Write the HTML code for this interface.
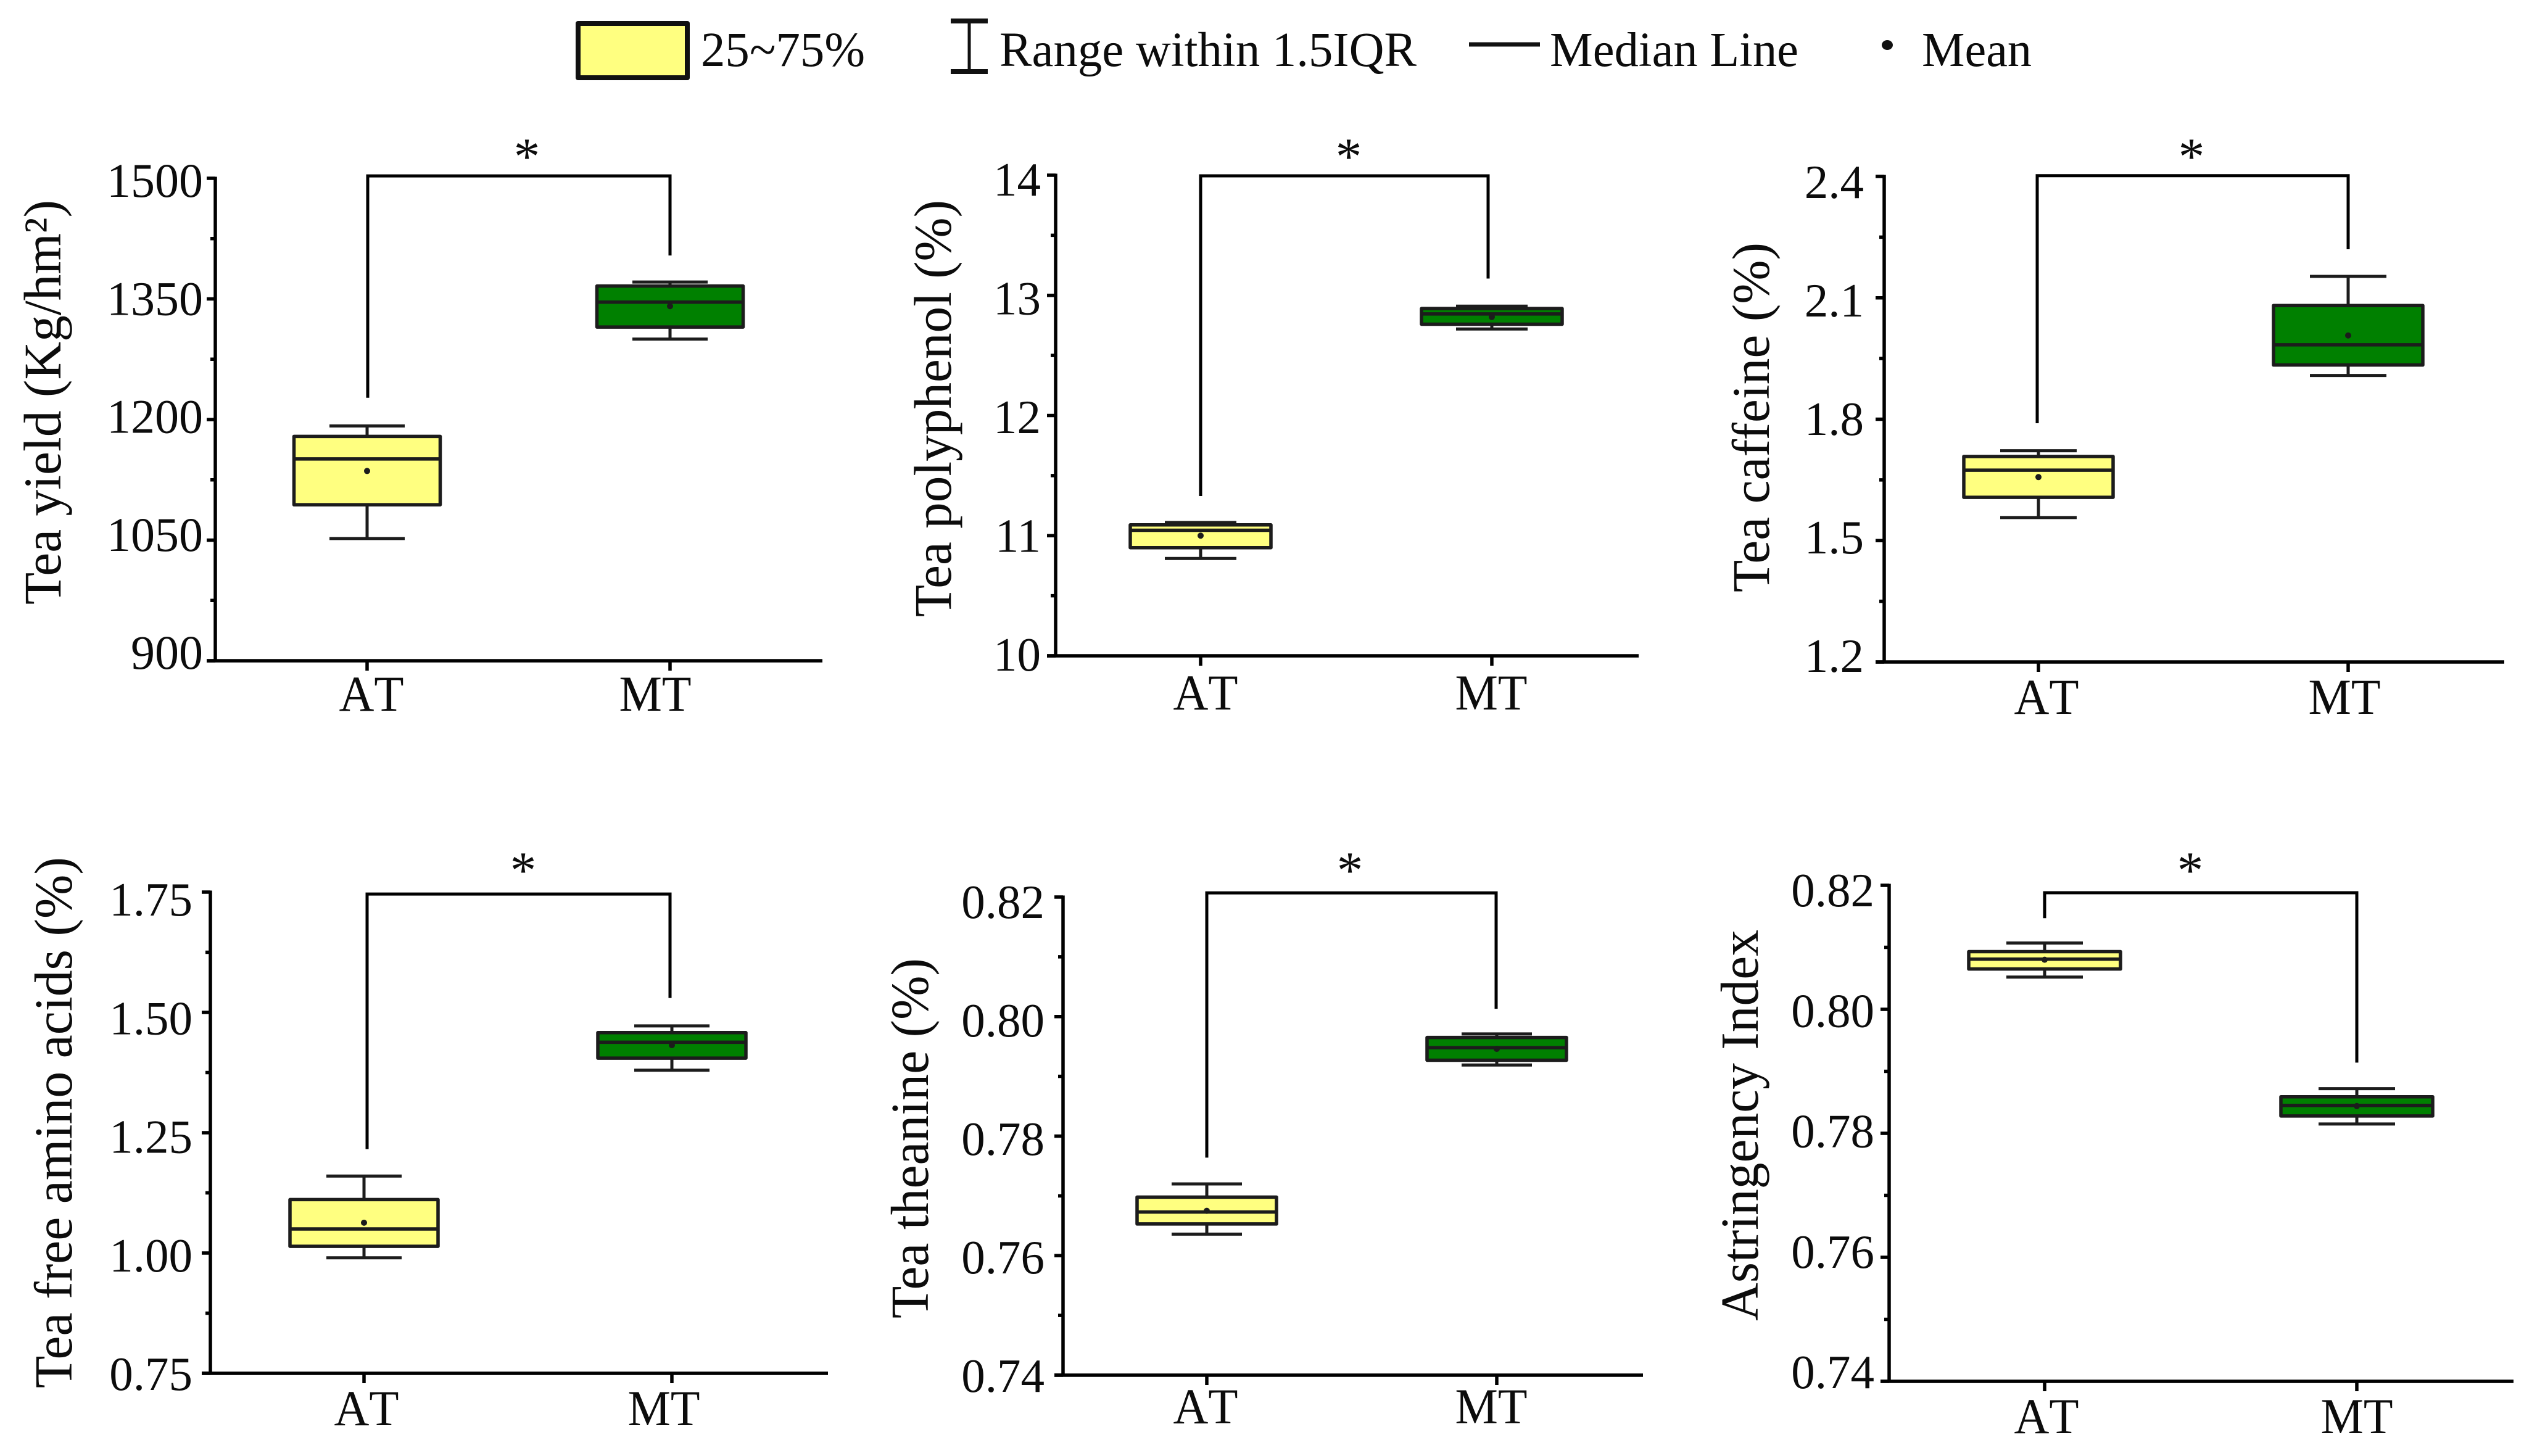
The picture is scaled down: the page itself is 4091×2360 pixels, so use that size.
<!DOCTYPE html>
<html lang="en">
<head>
<meta charset="utf-8">
<title>Tea quality box plots</title>
<style>
html,body{margin:0;padding:0;background:#fff;}
svg{display:block;}
text{font-family:"Liberation Serif",serif;fill:#0c0c0c;}
</style>
</head>
<body>
<svg id="chart" xmlns="http://www.w3.org/2000/svg" width="4091" height="2360" viewBox="0 0 4091 2360">
  <rect x="0" y="0" width="4091" height="2360" fill="#fff"/>
  <g>
    <rect x="937" y="38" width="177" height="88" fill="#FFFF80" stroke="#111" stroke-width="8" stroke-linejoin="round"/>
    <text x="1136" y="107" font-size="79" textLength="266" lengthAdjust="spacingAndGlyphs">25~75%</text>
    <g stroke="#111">
      <line x1="1571" y1="34" x2="1571" y2="116" stroke-width="5"/>
      <line x1="1541" y1="34" x2="1601" y2="34" stroke-width="8"/>
      <line x1="1541" y1="116" x2="1601" y2="116" stroke-width="8"/>
    </g>
    <text x="1620" y="107" font-size="79" textLength="676" lengthAdjust="spacingAndGlyphs">Range within 1.5IQR</text>
    <line x1="2381" y1="72" x2="2496" y2="72" stroke="#111" stroke-width="7"/>
    <text x="2512" y="107" font-size="79" textLength="403" lengthAdjust="spacingAndGlyphs">Median Line</text>
    <ellipse cx="3059" cy="73" rx="9" ry="8" fill="#111"/>
    <text x="3115" y="107" font-size="79" textLength="178" lengthAdjust="spacingAndGlyphs">Mean</text>
  </g>
</svg>
<script>
// ---------- data: stats order is [whisker low, Q1, median, mean, Q3, whisker high] ----------
const categories = ['AT', 'MT'];

const yieldTicks = [900, 1050, 1200, 1350, 1500];
const yieldTickLabels = ['900', '1050', '1200', '1350', '1500'];
const yieldAT = [1052, 1094, 1151, 1136, 1179, 1192];
const yieldMT = [1300, 1315, 1346, 1341, 1366, 1371];
const yieldBracket = [1227, 1503, 1404];

const polyphenolTicks = [10, 11, 12, 13, 14];
const polyphenolTickLabels = ['10', '11', '12', '13', '14'];
const polyphenolAT = [10.81, 10.90, 11.045, 11.0, 11.09, 11.11];
const polyphenolMT = [12.72, 12.76, 12.845, 12.82, 12.89, 12.91];
const polyphenolBracket = [11.33, 13.995, 13.14];

const caffeineTicks = [1.2, 1.5, 1.8, 2.1, 2.4];
const caffeineTickLabels = ['1.2', '1.5', '1.8', '2.1', '2.4'];
const caffeineAT = [1.557, 1.607, 1.674, 1.657, 1.708, 1.722];
const caffeineMT = [1.908, 1.934, 1.984, 2.007, 2.081, 2.153];
const caffeineBracket = [1.79, 2.402, 2.22];

const aminoTicks = [0.75, 1.00, 1.25, 1.50, 1.75];
const aminoTickLabels = ['0.75', '1.00', '1.25', '1.50', '1.75'];
const aminoAT = [0.99, 1.014, 1.05, 1.063, 1.111, 1.16];
const aminoMT = [1.38, 1.405, 1.438, 1.432, 1.458, 1.472];
const aminoBracket = [1.216, 1.746, 1.53];

const theanineTicks = [0.74, 0.76, 0.78, 0.80, 0.82];
const theanineTickLabels = ['0.74', '0.76', '0.78', '0.80', '0.82'];
const theanineAT = [0.7636, 0.7653, 0.7673, 0.7675, 0.7698, 0.7720];
const theanineMT = [0.7919, 0.7927, 0.7948, 0.7946, 0.7965, 0.7971];
const theanineBracket = [0.7764, 0.8207, 0.8013];

const astringencyTicks = [0.74, 0.76, 0.78, 0.80, 0.82];
const astringencyTickLabels = ['0.74', '0.76', '0.78', '0.80', '0.82'];
const astringencyAT = [0.8052, 0.8065, 0.8081, 0.8080, 0.8093, 0.8107];
const astringencyMT = [0.7815, 0.7828, 0.7845, 0.7844, 0.7859, 0.7872];
const astringencyBracket = [0.8147, 0.8188, 0.7914];

// ---------- layout (pixels), kept apart from the data ----------
const panels = [
  {id:'tea-yield', title:'Tea yield (Kg/hm²)', ticks:yieldTicks, labels:yieldTickLabels, at:yieldAT, mt:yieldMT, bracket:yieldBracket,
   ax:349, top:289, bottom:1071, right:1333, cx:[595,1086], bx:[596,1086], boxHalf:118.5, capHalf:61,
   starX:854, starY:282, tickFont:78, tickRight:329, labelTop:319, labelBottom:1084,
   xLabelX:[602,1062], xLabelY:1152, titleX:98, titleBottom:980, titleLen:656, titleFont:86},
  {id:'tea-polyphenol', title:'Tea polyphenol (%)', ticks:polyphenolTicks, labels:polyphenolTickLabels, at:polyphenolAT, mt:polyphenolMT, bracket:polyphenolBracket,
   ax:1711, top:284, bottom:1063, right:2656, cx:[1946,2418], bx:[1946,2412], boxHalf:114, capHalf:58,
   starX:2186, starY:282, tickFont:77, tickRight:1687, labelTop:317, labelBottom:1087,
   xLabelX:[1954,2417], xLabelY:1150, titleX:1541, titleBottom:1000, titleLen:676, titleFont:86},
  {id:'tea-caffeine', title:'Tea caffeine (%)', ticks:caffeineTicks, labels:caffeineTickLabels, at:caffeineAT, mt:caffeineMT, bracket:caffeineBracket,
   ax:3054, top:286, bottom:1073, right:4059, cx:[3304,3806], bx:[3302,3806], boxHalf:121, capHalf:62,
   starX:3552, starY:282, tickFont:77, tickRight:3021, labelTop:321, labelBottom:1089,
   xLabelX:[3317,3800], xLabelY:1157, titleX:2867, titleBottom:960, titleLen:567, titleFont:86},
  {id:'tea-free-amino-acids', title:'Tea free amino acids (%)', ticks:aminoTicks, labels:aminoTickLabels, at:aminoAT, mt:aminoMT, bracket:aminoBracket,
   ax:341, top:1446, bottom:2226, right:1342, cx:[590,1089], bx:[595,1086], boxHalf:120, capHalf:61,
   starX:848, starY:1439, tickFont:77, tickRight:312, labelTop:1484, labelBottom:2253,
   xLabelX:[594,1076], xLabelY:2310, titleX:116, titleBottom:2250, titleLen:861, titleFont:87},
  {id:'tea-theanine', title:'Tea theanine (%)', ticks:theanineTicks, labels:theanineTickLabels, at:theanineAT, mt:theanineMT, bracket:theanineBracket,
   ax:1723, top:1454, bottom:2229, right:2663, cx:[1956,2426], bx:[1956,2425], boxHalf:113, capHalf:57,
   starX:2188, starY:1439, tickFont:77, tickRight:1693, labelTop:1488, labelBottom:2256,
   xLabelX:[1954,2417], xLabelY:2307, titleX:1504, titleBottom:2137, titleLen:584, titleFont:87},
  {id:'astringency-index', title:'Astringency Index', ticks:astringencyTicks, labels:astringencyTickLabels, at:astringencyAT, mt:astringencyMT, bracket:astringencyBracket,
   ax:3062, top:1435, bottom:2239, right:4074, cx:[3314,3820], bx:[3314,3820], boxHalf:123, capHalf:62,
   starX:3550, starY:1439, tickFont:77, tickRight:3038, labelTop:1469, labelBottom:2250,
   xLabelX:[3317,3820], xLabelY:2323, titleX:2849, titleBottom:2141, titleLen:634, titleFont:87}
];

const NS = 'http://www.w3.org/2000/svg';
const INK = '#1c1c1c';
const AXIS_INK = '#000';
const BOX_FILLS = ['#FFFF80', '#008000'];
const X_LABEL_FONT = 82;
const X_LABEL_LENGTHS = [105, 117];
const svg = document.getElementById('chart');

function mk(parent, tag, attrs, name) {
  const el = document.createElementNS(NS, tag);
  for (const k in attrs) el.setAttribute(k, attrs[k]);
  
  
  parent.appendChild(el);
  return el;
}
function seg(parent, x1, y1, x2, y2, w, color, name) {
  return mk(parent, 'line', {x1, y1, x2, y2, stroke: color, 'stroke-width': w}, name);
}

panels.forEach(function (p) {
  const g = mk(svg, 'g', {}, p.id + '-panel');
  const lo = p.ticks[0], hi = p.ticks[p.ticks.length - 1];
  const y = function (v) { return p.bottom - (v - lo) / (hi - lo) * (p.bottom - p.top); };

  // axes
  seg(g, p.ax, p.top - 2.5, p.ax, p.bottom + 2.5, 5.5, AXIS_INK, 'y-axis');
  seg(g, p.ax - 14, p.bottom, p.right, p.bottom, 5.5, AXIS_INK, 'x-axis');

  // y ticks and labels
  p.ticks.forEach(function (t, i) {
    const ty = y(t);
    seg(g, p.ax - 14, ty, p.ax, ty, 5.5, AXIS_INK, 'y-tick');
    if (i < p.ticks.length - 1) {
      const my = y((t + p.ticks[i + 1]) / 2);
      seg(g, p.ax - 8, my, p.ax, my, 5.5, AXIS_INK, 'y-minor-tick');
    }
    const base = p.labelBottom - i / (p.ticks.length - 1) * (p.labelBottom - p.labelTop);
    const tx = mk(g, 'text', {x: p.tickRight, y: base, 'font-size': p.tickFont, 'text-anchor': 'end'}, 'y-tick-label');
    tx.textContent = p.labels[i];
  });

  // y title
  const ti = mk(g, 'text', {
    x: p.titleX, y: p.titleBottom, 'font-size': p.titleFont,
    textLength: p.titleLen, lengthAdjust: 'spacingAndGlyphs',
    transform: 'rotate(-90 ' + p.titleX + ' ' + p.titleBottom + ')'
  }, 'y-axis-title');
  ti.textContent = p.title;

  // significance bracket
  const bl = y(p.bracket[0]), bt = y(p.bracket[1]), br = y(p.bracket[2]);
  mk(g, 'path', {
    d: 'M' + p.bx[0] + ' ' + bl + 'V' + bt + 'H' + p.bx[1] + 'V' + br,
    fill: 'none', stroke: AXIS_INK, 'stroke-width': 5
  }, 'significance-bracket');
  const st = mk(g, 'text', {x: p.starX, y: p.starY, 'font-size': 85, 'text-anchor': 'middle'}, 'significance-star');
  st.textContent = '*';

  // boxes
  [p.at, p.mt].forEach(function (s, i) {
    const cx = p.cx[i];
    const b = mk(g, 'g', {}, 'box-' + categories[i].toLowerCase());
    seg(b, cx, p.bottom, cx, p.bottom + 16, 5.5, AXIS_INK, 'x-tick');
    seg(b, cx, y(s[0]), cx, y(s[5]), 5, INK, 'whisker');
    seg(b, cx - p.capHalf, y(s[0]), cx + p.capHalf, y(s[0]), 5, INK, 'whisker-cap-low');
    seg(b, cx - p.capHalf, y(s[5]), cx + p.capHalf, y(s[5]), 5, INK, 'whisker-cap-high');
    mk(b, 'rect', {
      x: cx - p.boxHalf, y: y(s[4]), width: 2 * p.boxHalf, height: y(s[1]) - y(s[4]),
      fill: BOX_FILLS[i], stroke: INK, 'stroke-width': 5.5, 'stroke-linejoin': 'round'
    }, 'interquartile-box');
    seg(b, cx - p.boxHalf, y(s[2]), cx + p.boxHalf, y(s[2]), 5.5, INK, 'median-line');
    mk(b, 'circle', {cx: cx, cy: y(s[3]), r: 5, fill: INK}, 'mean-dot');
    const lb = mk(b, 'text', {
      x: p.xLabelX[i], y: p.xLabelY, 'font-size': X_LABEL_FONT, 'text-anchor': 'middle',
      textLength: X_LABEL_LENGTHS[i], lengthAdjust: 'spacingAndGlyphs', style: 'font-kerning:none'
    }, 'x-tick-label');
    lb.textContent = categories[i];
  });
});
</script>
</body>
</html>
